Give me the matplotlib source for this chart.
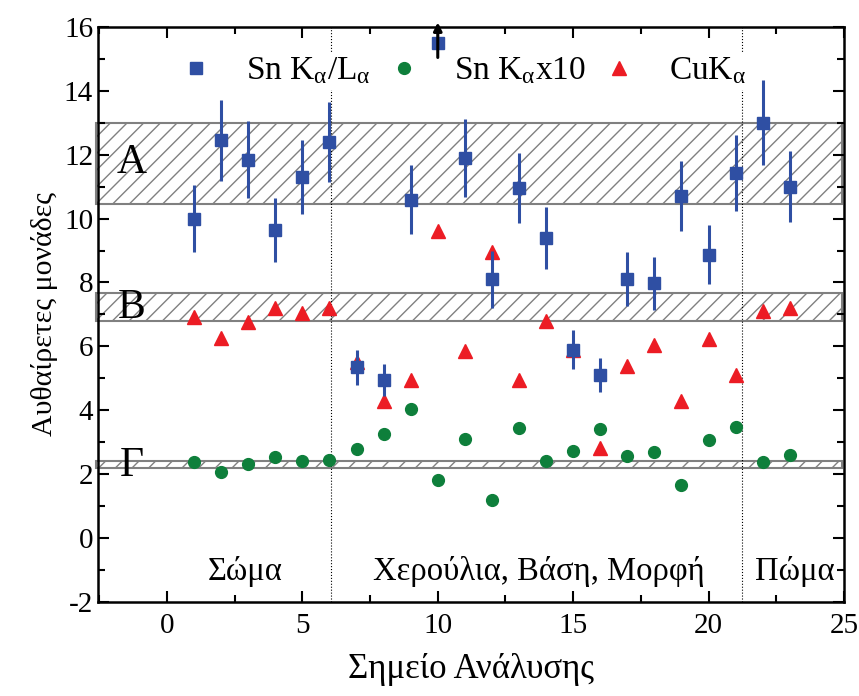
import numpy as np
import matplotlib
matplotlib.use("Agg")
import matplotlib.pyplot as plt
from matplotlib.ticker import MultipleLocator

plt.rcParams['font.family'] = ['Liberation Serif', 'DejaVu Serif']
plt.rcParams['mathtext.fontset'] = 'custom'
plt.rcParams['mathtext.rm'] = 'Liberation Serif'
plt.rcParams['mathtext.it'] = 'Liberation Serif'
plt.rcParams['axes.unicode_minus'] = False
plt.rcParams['hatch.linewidth'] = 1.0
plt.rcParams['hatch.color'] = '#808080'

# --- data ---
points = np.arange(1, 24)

sn_ratio = [10.0, 12.45, 11.85, 9.65, 11.3, 12.4, 5.35, 4.95, 10.6, 15.5, 11.9, 8.1,
            10.95, 9.4, 5.9, 5.1, 8.1, 7.98, 10.7, 8.87, 11.43, 13.0, 11.0]
sn_err = [1.05, 1.28, 1.2, 1.0, 1.15, 1.25, 0.55, 0.5, 1.07, 0.0, 1.22, 0.9,
          1.1, 0.97, 0.6, 0.53, 0.85, 0.83, 1.1, 0.93, 1.18, 1.33, 1.12]

sn_ka10 = [2.37, 2.05, 2.3, 2.52, 2.4, 2.45, 2.78, 3.25, 4.05, 1.82, 3.1, 1.18,
           3.45, 2.4, 2.72, 3.4, 2.55, 2.68, 1.67, 3.05, 3.48, 2.37, 2.6]

cu_ka = [6.92, 6.25, 6.75, 7.2, 7.05, 7.2, 5.52, 4.28, 4.95, 9.6, 5.85, 8.95,
         4.93, 6.8, 5.88, 2.8, 5.38, 6.05, 4.3, 6.23, 5.1, 7.1, 7.2]

bands = {'A': (10.45, 13.0), 'B': (6.78, 7.67), 'Γ': (2.18, 2.41)}
band_label_y = {'A': 11.75, 'B': 7.2, 'Γ': 2.25}
dividers = [6.05, 21.25]
regions = [('Σώμα', 2.9), ('Χερούλια, Βάση, Μορφή', 13.75), ('Πώμα', 23.2)]

blue = '#2F4FA3'
green = '#0E7F3B'
red = '#EC1C24'

fig = plt.figure(figsize=(8.59, 6.96), dpi=100)
ax = fig.add_axes([0.114, 0.1355, 0.8685, 0.8255])

# hatched bands
for name, (lo, hi) in bands.items():
    ax.axhspan(lo, hi, xmin=-0.003, xmax=0.997, facecolor='none', edgecolor='#808080',
               hatch='//', linewidth=1.5, zorder=1, clip_on=False)
    ax.text(-1.3, band_label_y[name], name, fontsize=30, ha='center', va='center',
            zorder=2)

for xd in dividers:
    ax.axvline(xd, color='black', linestyle=':', linewidth=0.8, zorder=1)

eb = ax.errorbar(points, sn_ratio, yerr=sn_err, fmt='s', color=blue, markersize=8,
                 elinewidth=2.2, capsize=0, zorder=4)
gr, = ax.plot(points, sn_ka10, 'o', color=green, markersize=8.5, linestyle='none',
              zorder=3)
cu, = ax.plot(points, cu_ka, '^', color=red, markersize=10.5, linestyle='none',
              zorder=3)

# arrow for the off-scale point
ax.annotate('', xy=(points[9], 16.15), xytext=(points[9], 15.05),
            arrowprops=dict(arrowstyle='-|>', color='black', lw=2.2,
                            mutation_scale=12, shrinkA=0, shrinkB=0),
            annotation_clip=False, zorder=6)

for txt, xc in regions:
    ax.text(xc, -1.05, txt, fontsize=23.5, ha='center', va='center')

ax.set_xlim(-2.55, 25)
ax.set_ylim(-2, 16)
ax.xaxis.set_major_locator(MultipleLocator(5))
ax.xaxis.set_minor_locator(MultipleLocator(2.5))
ax.yaxis.set_major_locator(MultipleLocator(2))
ax.yaxis.set_minor_locator(MultipleLocator(1))
ax.tick_params(which='both', direction='in', top=True, right=True, width=1.5,
               labelsize=21)
ax.tick_params(which='major', length=8)
ax.tick_params(which='minor', length=5)
ax.tick_params(axis='x', pad=8)
for s in ax.spines.values():
    s.set_linewidth(1.8)

ax.set_xlabel('Σημείο Ανάλυσης', fontsize=25, labelpad=10)
ax.set_ylabel('Αυθαίρετες μονάδες', fontsize=21.5, labelpad=4)

leg = ax.legend([eb[0], gr, cu],
                [r'Sn K$_\mathrm{α}$/L$_\mathrm{α}$', r'Sn K$_\mathrm{α}$x10', r'CuK$_\mathrm{α}$'],
                loc='upper center', bbox_to_anchor=(0.487, 0.985), ncol=3,
                fontsize=24, frameon=True, framealpha=1, edgecolor='none',
                facecolor='white', handletextpad=0.9, columnspacing=0.4,
                borderpad=0.1, handlelength=1.2, fancybox=False)
leg.set_zorder(5)

fig.savefig('out.png', dpi=100)
